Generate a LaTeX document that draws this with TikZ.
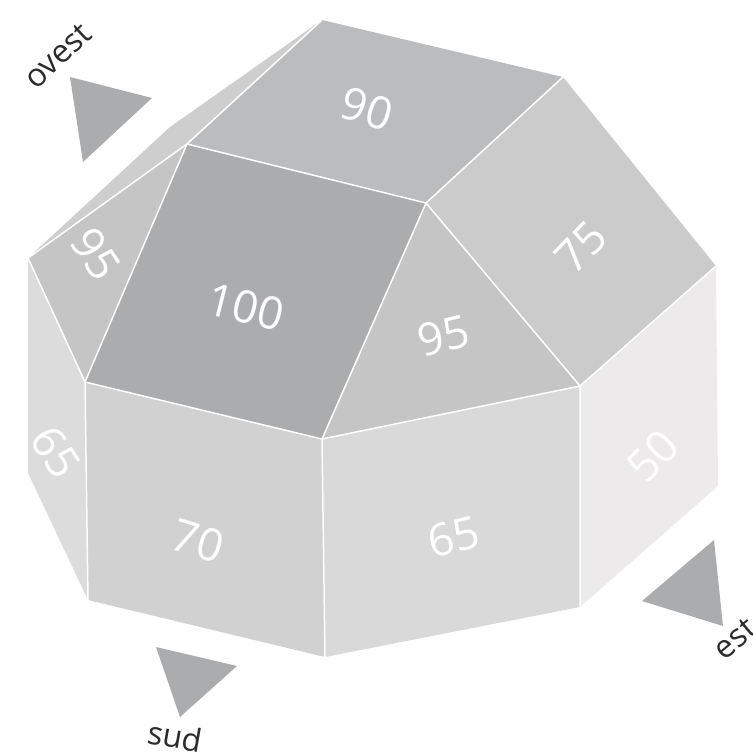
\documentclass[tikz,border=0pt]{standalone}
\usepackage{fontspec}
\setmainfont{Open Sans}
\definecolor{cTop}{HTML}{BBBCBE}
\definecolor{cNE}{HTML}{CBCBCB}
\definecolor{cTri}{HTML}{C5C5C5}
\definecolor{cMain}{HTML}{ABACAE}
\definecolor{cStrip}{HTML}{CECECE}
\definecolor{cWest}{HTML}{DCDCDC}
\definecolor{cSouth}{HTML}{D1D1D1}
\definecolor{cSE}{HTML}{D9D9D9}
\definecolor{cEast}{HTML}{ECEAEB}
\definecolor{cText}{HTML}{2B2B2D}
\tikzset{
  pointer/.style={fill=cMain,draw=none},
  seam/.style={white,line width=1.5pt,line join=round},
  val/.style={text=white,font=\fontsize{45}{45}\selectfont,inner sep=0pt},
  dir/.style={text=cText,font=\fontsize{32}{32}\selectfont,inner sep=0pt}
}
\begin{document}
\begin{tikzpicture}[x=1pt,y=-1pt]
\useasboundingbox (0,0) rectangle (753,756);
\coordinate (A) at (322,20);
\coordinate (B) at (563,77);
\coordinate (C) at (716,266);
\coordinate (D) at (718,486);
\coordinate (E) at (580,607);
\coordinate (F) at (325,657);
\coordinate (G) at (88,600);
\coordinate (H) at (28,473);
\coordinate (I) at (28,258);
\coordinate (J) at (187,144);
\coordinate (K) at (426,203);
\coordinate (L) at (580,386);
\coordinate (M) at (322,439);
\coordinate (N) at (85,382);
\coordinate (S) at (170,127);
\fill[cStrip] (I) -- (S) -- (A) -- (J) -- cycle;
\fill[cTop] (A) -- (B) -- (K) -- (J) -- cycle;
\fill[cNE] (B) -- (C) -- (L) -- (K) -- cycle;
\fill[cEast] (L) -- (C) -- (D) -- (E) -- cycle;
\fill[cSE] (M) -- (L) -- (E) -- (F) -- cycle;
\fill[cSouth] (N) -- (M) -- (F) -- (G) -- cycle;
\fill[cWest] (I) -- (N) -- (G) -- (H) -- cycle;
\fill[cTri] (I) -- (J) -- (N) -- cycle;
\fill[cTri] (K) -- (L) -- (M) -- cycle;
\fill[cMain] (J) -- (K) -- (M) -- (N) -- cycle;
\draw[seam]
  (I) -- (J) -- (A) (J) -- (K) -- (B) (K) -- (L) -- (C) (L) -- (E)
  (J) -- (N) -- (M) -- (K) (M) -- (L) (M) -- (F) (N) -- (G) (I) -- (N);
\fill[pointer] (70,77) -- (152,98) -- (83,162) -- cycle;
\fill[pointer] (156,647) -- (237,666) -- (180,717) -- cycle;
\fill[pointer] (642,601) -- (714,540) -- (723,626) -- cycle;
\node[val,rotate=-17] (v90) at (367,109) {90};
\node[val,rotate=-14] (v100) at (246,307) {100};
\node[val,rotate=14] (v95b) at (444,336) {95};
\node[val,rotate=-17] (v70) at (198,541) {70};
\node[val,rotate=14] (v65b) at (454,537) {65};
\node[val,rotate=46] (v75) at (581,247) {75};
\node[val,rotate=46] (v50) at (653,456) {50};
\node[val,rotate=-57] (v95a) at (96,254) {95};
\node[val,rotate=-57] (v65a) at (56,452) {65};
\node[dir,rotate=43] (ovest) at (58,56) {ovest};
\node[dir,rotate=-10] (sud) at (175,736) {sud};
\node[dir,rotate=40] (est) at (735,639) {est};
\end{tikzpicture}
\end{document}
